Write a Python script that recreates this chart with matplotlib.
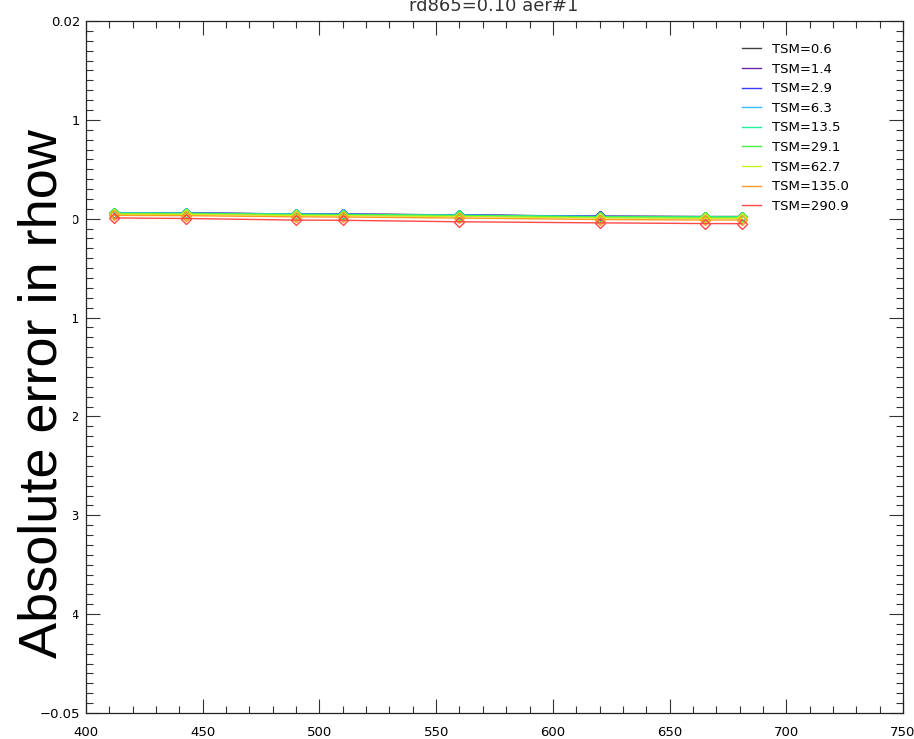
import matplotlib
matplotlib.use("Agg")
import matplotlib.pyplot as plt
from matplotlib.patches import Rectangle
from matplotlib.ticker import MultipleLocator

# wavelengths (nm) of the bands
wavelength = [412, 443, 490, 510, 560, 620, 665, 681]

tsm_labels = ["TSM=0.6", "TSM=1.4", "TSM=2.9", "TSM=6.3", "TSM=13.5",
              "TSM=29.1", "TSM=62.7", "TSM=135.0", "TSM=290.9"]

# absolute error in rhow per TSM level
err_tsm_0_6 = [0.00060, 0.00058, 0.00048, 0.00047, 0.00039, 0.00025, 0.00022, 0.00022]
err_tsm_1_4 = [0.00060, 0.00058, 0.00048, 0.00046, 0.00038, 0.00024, 0.00021, 0.00021]
err_tsm_2_9 = [0.00059, 0.00057, 0.00047, 0.00045, 0.00037, 0.00023, 0.00020, 0.00020]
err_tsm_6_3 = [0.00058, 0.00056, 0.00046, 0.00044, 0.00036, 0.00022, 0.00019, 0.00019]
err_tsm_13_5 = [0.00056, 0.00054, 0.00044, 0.00042, 0.00034, 0.00020, 0.00017, 0.00017]
err_tsm_29_1 = [0.00053, 0.00051, 0.00041, 0.00039, 0.00031, 0.00017, 0.00014, 0.00014]
err_tsm_62_7 = [0.00046, 0.00044, 0.00033, 0.00031, 0.00022, 0.00008, 0.00004, 0.00004]
err_tsm_135_0 = [0.00034, 0.00031, 0.00019, 0.00017, 0.00007, -0.00008, -0.00013, -0.00013]
err_tsm_290_9 = [0.00008, 0.00002, -0.00014, -0.00016, -0.00031, -0.00042, -0.00049, -0.00050]

errors = [err_tsm_0_6, err_tsm_1_4, err_tsm_2_9, err_tsm_6_3, err_tsm_13_5,
          err_tsm_29_1, err_tsm_62_7, err_tsm_135_0, err_tsm_290_9]

colors = ["#404040", "#6a2aa8", "#3a3aff", "#33c4ff", "#22eea0",
          "#44f044", "#c8f020", "#ff9a22", "#ff4848"]

fig = plt.figure(figsize=(9.14, 7.39), dpi=100)
ax = fig.add_axes([86 / 914, 1 - 713 / 739, (903 - 86) / 914, (713 - 21) / 739])

for y, c, lab in zip(errors, colors, tsm_labels):
    ax.plot(wavelength, y, color=c, lw=1.0, label=lab)
    ax.plot(wavelength, y, ls="none", marker="D", ms=5, mfc="none", mec=c, mew=1.0)

ax.set_xlim(400, 750)
ax.set_ylim(-0.05, 0.02)
ax.xaxis.set_major_locator(MultipleLocator(50))
ax.xaxis.set_minor_locator(MultipleLocator(10))
ax.yaxis.set_major_locator(MultipleLocator(0.01))
ax.yaxis.set_minor_locator(MultipleLocator(0.001))
ax.yaxis.set_major_formatter(plt.FuncFormatter(
    lambda v, p: ("%.2f" % v).replace("-", "\u2212")))

ax.tick_params(which="both", direction="in", top=True, right=True,
               color="#333333", width=0.8, labelsize=9.5)
ax.tick_params(which="major", length=10)
ax.tick_params(which="minor", length=5)
ax.tick_params(axis="x", pad=9)
ax.tick_params(axis="y", pad=4)
for s in ax.spines.values():
    s.set_linewidth(0.9)
    s.set_color("#222222")

leg = ax.legend(loc="upper left", bbox_to_anchor=(742 / 914, 1 - 43 / 739),
                bbox_transform=fig.transFigure, frameon=False, fontsize=9.5,
                handlelength=1.45, handletextpad=0.8, labelspacing=0.5,
                borderpad=0, borderaxespad=0)

fig.text(494 / 914, 1 - 11 / 739, "rd865=0.10 aer#1", ha="center", va="baseline",
         fontsize=13, color="#333333")

# white strip behind the big y label
fig.patches.append(Rectangle((0, 1 - 695 / 739), 73 / 914, (695 - 105) / 739,
                             transform=fig.transFigure, facecolor="white",
                             edgecolor="none", zorder=5))
fig.text(57 / 914, 1 - 394 / 739, "Absolute error in rhow", rotation=90,
         rotation_mode="anchor", ha="center", va="baseline", fontsize=39,
         family="Liberation Sans", color="black", zorder=6)

fig.savefig("out.png", dpi=100)
